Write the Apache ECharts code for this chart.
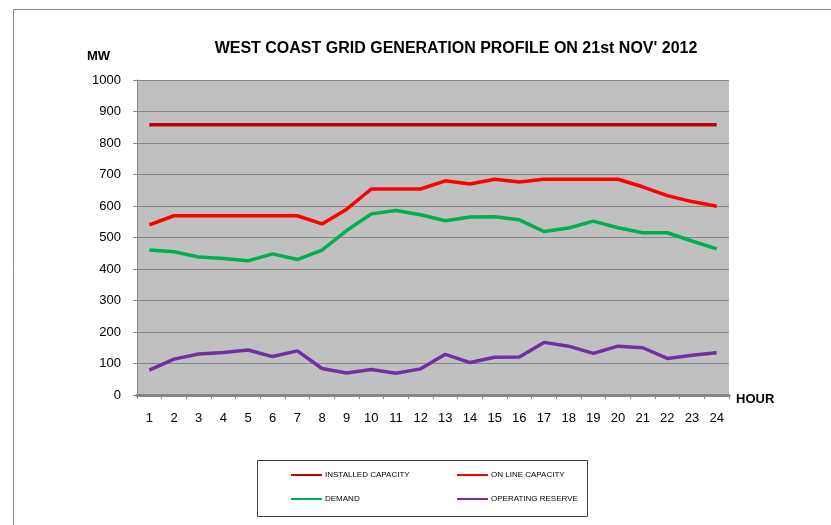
<!DOCTYPE html>
<html>
<head>
<meta charset="utf-8">
<script src="https://cdn.jsdelivr.net/npm/echarts@6/dist/echarts.min.js"></script>
<style>
html,body{margin:0;padding:0;background:#fff;}
#c{width:831px;height:525px;}
</style>
</head>
<body>
<div id="c"></div>
<script>
const hours = ['1','2','3','4','5','6','7','8','9','10','11','12','13','14','15','16','17','18','19','20','21','22','23','24'];
const installedCapacity = [858,858,858,858,858,858,858,858,858,858,858,858,858,858,858,858,858,858,858,858,858,858,858,858];
const onlineCapacity = [540,569,569,569,569,569,569,543,590,654,654,654,680,670,685,676,685,685,685,685,661,633,614,599];
const demand = [460,455,438,433,426,448,430,460,522,575,586,572,553,565,566,556,519,530,552,531,515,515,489,464];
const operatingReserve = [79,114,130,135,143,122,140,84,70,81,69,83,129,103,120,121,167,155,132,155,150,116,126,134];
const yTicks = [0,100,200,300,400,500,600,700,800,900,1000];

const FONT = '"Liberation Sans", Arial, sans-serif';
const chart = echarts.init(document.getElementById('c'), null, {renderer: 'canvas'});

function lineSeries(name, data, color) {
  return {
    name: name, type: 'line', data: data, symbol: 'none',
    lineStyle: {color: color, width: 3.5}, itemStyle: {color: color},
    animation: false
  };
}

chart.setOption({
  animation: false,
  backgroundColor: '#ffffff',
  textStyle: {fontFamily: FONT},
  title: {
    text: "WEST COAST GRID GENERATION PROFILE ON 21st NOV' 2012",
    left: 451, textAlign: 'center', top: 36,
    textStyle: {fontFamily: FONT, fontSize: 16, fontWeight: 'bold', color: '#000'}
  },
  grid: {
    left: 137, right: 102, top: 80, bottom: 130,
    show: true, backgroundColor: '#C0C0C0', borderWidth: 0
  },
  legend: [
    {
      orient: 'vertical', left: 286, top: 466, itemGap: 16,
      itemWidth: 31, itemHeight: 2, icon: 'rect',
      textStyle: {fontSize: 8, color: '#000', fontFamily: FONT, padding: [0,0,0,-2]},
      data: ['INSTALLED CAPACITY', 'DEMAND']
    },
    {
      orient: 'vertical', left: 452, top: 466, itemGap: 16,
      itemWidth: 31, itemHeight: 2, icon: 'rect',
      textStyle: {fontSize: 8, color: '#000', fontFamily: FONT, padding: [0,0,0,-2]},
      data: ['ON LINE CAPACITY', 'OPERATING RESERVE']
    }
  ],
  xAxis: {
    type: 'category', data: hours, boundaryGap: true,
    axisLine: {show: true, lineStyle: {color: '#868686', width: 3}},
    axisTick: {show: true, alignWithLabel: false, length: 4, lineStyle: {color: '#868686', width: 1}},
    axisLabel: {color: '#000', fontSize: 13, margin: 17, fontFamily: FONT},
    splitLine: {show: false}
  },
  yAxis: {
    type: 'value', min: 0, max: 1000, interval: 100,
    axisLine: {show: true, lineStyle: {color: '#868686', width: 1}},
    axisTick: {show: true, length: 4, lineStyle: {color: '#868686'}},
    axisLabel: {color: '#000', fontSize: 13, margin: 16, fontFamily: FONT,
      formatter: function (v) { return yTicks.indexOf(v) >= 0 ? String(v) : ''; }},
    splitLine: {show: true, lineStyle: {color: '#868686', width: 1}}
  },
  graphic: [
    {type: 'rect', left: 11, top: 7, shape: {width: 840, height: 540},
     style: {fill: 'none', stroke: '#868686', lineWidth: 1}, z: -1, silent: true},
    {type: 'rect', left: 255, top: 458, shape: {width: 330, height: 56},
     style: {fill: 'none', stroke: '#404040', lineWidth: 1}, silent: true},
    {type: 'text', left: 87, top: 50,
     style: {text: 'MW', fontFamily: FONT, fontSize: 13, fontWeight: 'bold', fill: '#000'}},
    {type: 'text', left: 736, top: 393,
     style: {text: 'HOUR', fontFamily: FONT, fontSize: 13, fontWeight: 'bold', fill: '#000'}}
  ],
  series: [
    lineSeries('INSTALLED CAPACITY', installedCapacity, '#C00000'),
    lineSeries('ON LINE CAPACITY', onlineCapacity, '#FF0000'),
    lineSeries('DEMAND', demand, '#00B050'),
    lineSeries('OPERATING RESERVE', operatingReserve, '#7030A0')
  ]
});
</script>
</body>
</html>
